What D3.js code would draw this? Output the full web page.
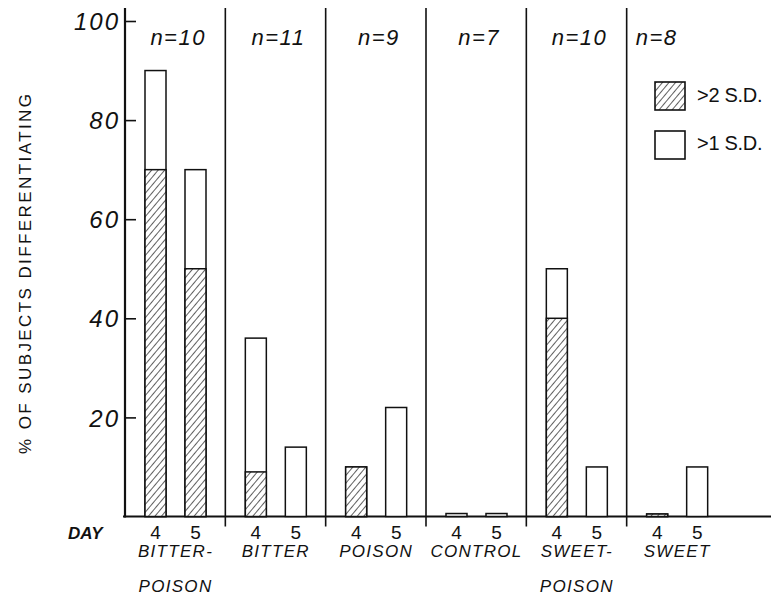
<!DOCTYPE html>
<html><head><meta charset="utf-8">
<script src="https://cdn.jsdelivr.net/npm/d3@7"></script>
<style>
html,body{margin:0;padding:0;background:#fff;}
text{font-family:"Liberation Sans",Arial,sans-serif;fill:#111;}
</style></head>
<body>
<div id="chart"></div>
<script>
// ---- data ----
const categories = ["BITTER-POISON","BITTER","POISON","CONTROL","SWEET-POISON","SWEET"];
const categoryLines = [["BITTER-","POISON"],["BITTER"],["POISON"],["CONTROL"],["SWEET-","POISON"],["SWEET"]];
const nLabels = ["n=10","n=11","n=9","n=7","n=10","n=8"];
const days = ["4","5"];
// % of subjects differentiating by >2 S.D. (hatched part)
const over2SD_day4 = [70, 9, 10, 0, 40, 0.5];
const over2SD_day5 = [50, 0, 0, 0, 0, 0];
// % of subjects differentiating by >1 S.D. (full bar height)
const over1SD_day4 = [90, 36, 0, 0.6, 50, 0];
const over1SD_day5 = [70, 14, 22, 0.6, 10, 10];
const yTicks = [20, 40, 60, 80, 100];
const legendLabels = [">2 S.D.", ">1 S.D."];

// ---- build rows ----
const rows = [];
categories.forEach((c, i) => {
  rows.push({cat: c, day: "4", hi: over2SD_day4[i], tot: Math.max(over1SD_day4[i], over2SD_day4[i])});
  rows.push({cat: c, day: "5", hi: over2SD_day5[i], tot: Math.max(over1SD_day5[i], over2SD_day5[i])});
});

const W = 771, H = 597;
const svg = d3.select("#chart").append("svg").attr("width", W).attr("height", H)
  .style("background", "#fff");

const defs = svg.append("defs");
const pat = defs.append("pattern").attr("id", "hatch").attr("patternUnits", "userSpaceOnUse")
  .attr("width", 5).attr("height", 5).attr("patternTransform", "rotate(40)");
pat.append("rect").attr("width", 5).attr("height", 5).attr("fill", "#fff");
pat.append("line").attr("x1", 0).attr("y1", 0).attr("x2", 0).attr("y2", 5)
  .attr("stroke", "#000").attr("stroke-width", 1.25);

const y = d3.scaleLinear().domain([0, 100]).range([516.5, 21]);
const x = d3.scaleBand().domain(categories).range([125, 727]);
const xi = d3.scaleBand().domain(days).range([20, 81]).paddingInner(0.475);

// y axis
const yAxis = d3.axisLeft(y).tickValues(yTicks).tickSizeInner(-11).tickSizeOuter(0).tickPadding(5);
const ga = svg.append("g").attr("transform", "translate(125,0)").call(yAxis);
ga.select(".domain").remove();
ga.selectAll(".tick line").attr("stroke", "#111").attr("stroke-width", 1.6);
ga.selectAll(".tick text").style("font-size", "24px").style("font-style", "italic")
  .style("letter-spacing", "2px")
  .style("font-family", "'Liberation Sans',Arial,sans-serif").attr("fill", "#111").attr("dy", "0.36em");
svg.append("line").attr("x1", 125).attr("x2", 125).attr("y1", 8).attr("y2", y(0) + 1)
  .attr("stroke", "#111").attr("stroke-width", 2.2);

// baseline
svg.append("line").attr("x1", 123).attr("x2", W).attr("y1", y(0)).attr("y2", y(0))
  .attr("stroke", "#111").attr("stroke-width", 2.2);

// dividers
svg.selectAll("line.div").data(categories.slice(1)).join("line").attr("class", "div")
  .attr("x1", d => x(d)).attr("x2", d => x(d)).attr("y1", 8).attr("y2", y(0) + 10)
  .attr("stroke", "#111").attr("stroke-width", 1.6);

// bars: full (>1 S.D.) open bars
const bx = d => x(d.cat) + xi(d.day);
svg.selectAll("rect.tot").data(rows.filter(d => d.tot > 0)).join("rect").attr("class", "tot")
  .attr("x", bx).attr("width", xi.bandwidth())
  .attr("y", d => y(d.tot)).attr("height", d => y(0) - y(d.tot))
  .attr("fill", "#fff").attr("stroke", "#111").attr("stroke-width", 1.5);
// hatched (>2 S.D.)
svg.selectAll("rect.hi").data(rows.filter(d => d.hi > 0)).join("rect").attr("class", "hi")
  .attr("x", bx).attr("width", xi.bandwidth())
  .attr("y", d => y(d.hi)).attr("height", d => y(0) - y(d.hi))
  .attr("fill", "url(#hatch)").attr("stroke", "#111").attr("stroke-width", 1.5);

// n labels
svg.selectAll("text.n").data(categories).join("text").attr("class", "n")
  .attr("x", (d, i) => i === categories.length - 1 ? x(d) + 9 : x(d) + x.bandwidth() / 2 + 3)
  .attr("text-anchor", (d, i) => i === categories.length - 1 ? "start" : "middle")
  .attr("y", 45).style("font-size", "22px").style("font-style", "italic")
  .style("letter-spacing", "1.5px")
  .text((d, i) => nLabels[i]);

// day labels
svg.append("text").attr("x", 68).attr("y", 539).style("font-size", "17px")
  .style("font-style", "italic").style("font-weight", "bold").text("DAY");
svg.selectAll("text.day").data(rows).join("text").attr("class", "day")
  .attr("x", d => bx(d) + xi.bandwidth() / 2).attr("y", 539).attr("text-anchor", "middle")
  .style("font-size", "19px").text(d => d.day);

// category labels
categories.forEach((c, i) => {
  const cx = x(c) + (xi("4") + xi("5") + xi.bandwidth()) / 2;
  categoryLines[i].forEach((ln, j) => {
    svg.append("text").attr("x", cx).attr("y", 557 + j * 35).attr("text-anchor", "middle")
      .style("font-size", "17px").style("font-style", "italic").style("letter-spacing", "1.3px")
      .text(ln);
  });
});

// y axis title
svg.append("text").attr("transform", "translate(31,274) rotate(-90)").attr("text-anchor", "middle")
  .style("font-size", "17px").attr("textLength", 360).attr("lengthAdjust", "spacing")
  .text("% OF SUBJECTS DIFFERENTIATING");

// legend
const lg = svg.append("g");
legendLabels.forEach((l, i) => {
  lg.append("rect").attr("x", 655).attr("y", 82 + i * 49).attr("width", 30).attr("height", 28)
    .attr("fill", i === 0 ? "url(#hatch)" : "#fff").attr("stroke", "#111").attr("stroke-width", 1.6);
  lg.append("text").attr("x", 697).attr("y", 102 + i * 48).style("font-size", "20px")
    .style("letter-spacing", "-0.3px").text(l);
});
</script>
</body></html>
